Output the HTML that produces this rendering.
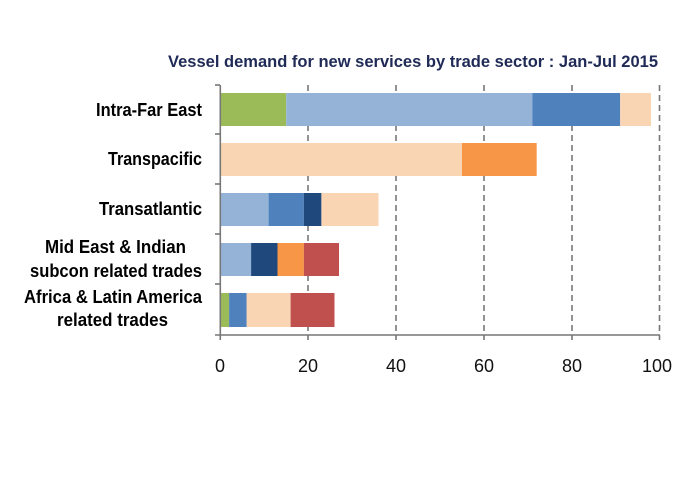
<!DOCTYPE html>
<html><head><style>
body{margin:0;background:#fff;}
</style></head><body>
<svg width="699" height="480" xmlns="http://www.w3.org/2000/svg" style="display:block">
<text x="168" y="67" textLength="490" lengthAdjust="spacingAndGlyphs" font-family="Liberation Sans, sans-serif" font-weight="bold" font-size="16.5" fill="#1f2a56">Vessel demand for new services by trade sector : Jan-Jul 2015</text>
<g stroke="#777" stroke-width="1.6" stroke-dasharray="6,4">
<line x1="308" y1="85" x2="308" y2="335"/>
<line x1="396" y1="85" x2="396" y2="335"/>
<line x1="484" y1="85" x2="484" y2="335"/>
<line x1="572" y1="85" x2="572" y2="335"/>
<line x1="659.5" y1="85" x2="659.5" y2="335"/>
</g>
<g>
<rect x="220.3" y="93" width="65.9" height="33" fill="#9bbb59"/>
<rect x="286.2" y="93" width="246.1" height="33" fill="#95b3d7"/>
<rect x="532.3" y="93" width="87.9" height="33" fill="#4f81bd"/>
<rect x="620.2" y="93" width="30.8" height="33" fill="#fad5b3"/>
<rect x="220.3" y="143" width="241.7" height="33" fill="#fad5b3"/>
<rect x="462" y="143" width="74.7" height="33" fill="#f79646"/>
<rect x="220.3" y="193" width="48.3" height="33" fill="#95b3d7"/>
<rect x="268.6" y="193" width="35.2" height="33" fill="#4f81bd"/>
<rect x="303.8" y="193" width="17.6" height="33" fill="#1f497d"/>
<rect x="321.4" y="193" width="57.1" height="33" fill="#fad5b3"/>
<rect x="220.3" y="243" width="30.8" height="33" fill="#95b3d7"/>
<rect x="251.1" y="243" width="26.4" height="33" fill="#1f497d"/>
<rect x="277.5" y="243" width="26.4" height="33" fill="#f79646"/>
<rect x="303.9" y="243" width="35.1" height="33" fill="#c0504d"/>
<rect x="220.3" y="293" width="8.8" height="34" fill="#9bbb59"/>
<rect x="229.1" y="293" width="17.6" height="34" fill="#4f81bd"/>
<rect x="246.7" y="293" width="43.9" height="34" fill="#fad5b3"/>
<rect x="290.6" y="293" width="43.9" height="34" fill="#c0504d"/>
</g>
<g stroke="#777" stroke-width="1.6">
<line x1="220.3" y1="85" x2="220.3" y2="335"/>
<line x1="215" y1="335" x2="660" y2="335"/>
<line x1="215" y1="85" x2="220" y2="85"/>
<line x1="215" y1="134" x2="220" y2="134"/>
<line x1="215" y1="184" x2="220" y2="184"/>
<line x1="215" y1="234" x2="220" y2="234"/>
<line x1="215" y1="284" x2="220" y2="284"/>
<line x1="220.3" y1="335" x2="220.3" y2="340"/>
<line x1="308" y1="335" x2="308" y2="340"/>
<line x1="396" y1="335" x2="396" y2="340"/>
<line x1="484" y1="335" x2="484" y2="340"/>
<line x1="572" y1="335" x2="572" y2="340"/>
<line x1="659.5" y1="335" x2="659.5" y2="340"/>
</g>
<g font-family="Liberation Sans, sans-serif" font-size="18" fill="#111" text-anchor="middle">
<text x="220" y="372">0</text><text x="308" y="372">20</text><text x="396" y="372">40</text>
<text x="484" y="372">60</text><text x="572" y="372">80</text><text x="657" y="372">100</text>
</g>
<g font-family="Liberation Sans, sans-serif" font-size="18" font-weight="bold" fill="#000" lengthAdjust="spacingAndGlyphs">
<text x="96" y="116" textLength="106" lengthAdjust="spacingAndGlyphs">Intra-Far East</text>
<text x="108" y="165" textLength="94" lengthAdjust="spacingAndGlyphs">Transpacific</text>
<text x="99" y="215" textLength="103" lengthAdjust="spacingAndGlyphs">Transatlantic</text>
<text x="45" y="253" textLength="141" lengthAdjust="spacingAndGlyphs">Mid East &amp; Indian</text>
<text x="30" y="277" textLength="172" lengthAdjust="spacingAndGlyphs">subcon related trades</text>
<text x="24" y="303" textLength="178" lengthAdjust="spacingAndGlyphs">Africa &amp; Latin America</text>
<text x="57" y="326" textLength="111" lengthAdjust="spacingAndGlyphs">related trades</text>
</g>
</svg>
</body></html>
